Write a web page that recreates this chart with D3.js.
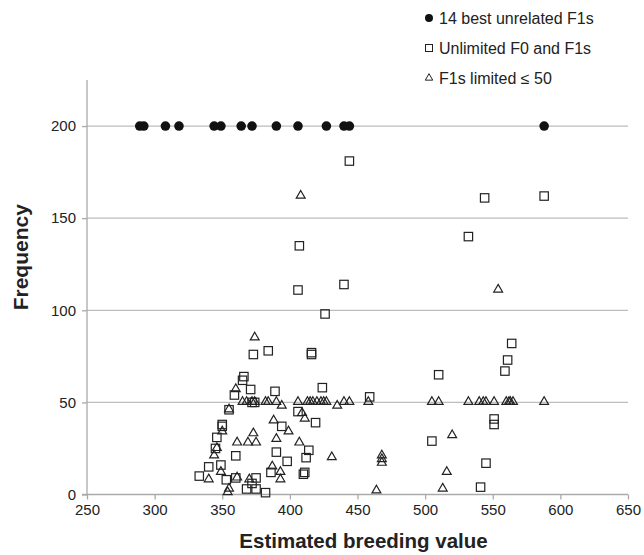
<!DOCTYPE html>
<html>
<head>
<meta charset="utf-8">
<script src="https://cdn.jsdelivr.net/npm/d3@7"></script>
<style>
  body { margin: 0; background: #fff; }
  text { font-family: "Liberation Sans", Arial, sans-serif; fill: #222; }
</style>
</head>
<body>
<svg width="644" height="555"></svg>
<script>
// best 14 unrelated F1s (all at frequency 200)
var bestX = [289, 292, 308, 318, 344, 349, 364, 372, 390, 406, 427, 440, 444, 588];
var bestY = [200, 200, 200, 200, 200, 200, 200, 200, 200, 200, 200, 200, 200, 200];

// unlimited F0 and F1s
var unlimX = [444, 588, 544, 532, 407, 406, 440, 426, 564, 561, 559, 510, 551, 551, 545, 541, 505, 459, 424,
              384, 416, 416, 373, 389, 406, 419, 394, 390, 414, 412, 398, 386, 410, 411, 382, 366, 365, 371,
              359, 372, 374, 355, 350, 350, 346, 345, 360, 349, 340, 333, 353, 360, 368, 375, 375, 372];
var unlimY = [181, 162, 161, 140, 135, 111, 114, 98, 82, 73, 67, 65, 41, 38, 17, 4, 29, 53, 58,
              78, 77, 76, 76, 56, 45, 39, 37, 23, 24, 20, 18, 12, 11, 12, 1, 64, 62, 57,
              54, 50, 50, 46, 38, 37, 31, 25, 21, 16, 15, 10, 8, 9, 3, 3, 9, 6];

// F1s limited <= 50
var limX = [382, 384, 390, 406, 413, 415, 417, 420, 423, 425, 427, 440, 444, 458, 365, 368, 372, 374,
            505, 510, 532, 540, 543, 545, 551, 560, 562, 563, 565, 588, 394, 435,
            408, 554, 374, 360, 355, 350, 361, 373, 369, 375, 346, 344, 349, 340, 361, 370, 355, 354,
            409, 388, 411, 399, 390, 407, 431, 387, 393, 393, 468, 468, 468, 464, 520, 516, 513];
var limY = [50, 50, 50, 50, 50, 50, 50, 50, 50, 50, 50, 50, 50, 50, 50, 50, 50, 50,
            50, 50, 50, 50, 50, 50, 50, 50, 50, 50, 50, 50, 48, 48,
            162, 111, 85, 57, 46, 34, 28, 33, 28, 28, 25, 21, 12, 8, 9, 8, 3, 1,
            44, 40, 41, 34, 30, 28, 20, 15, 12, 8, 21, 19, 17, 2, 32, 12, 3];

var xTicks = [250, 300, 350, 400, 450, 500, 550, 600, 650];
var yTicks = [0, 50, 100, 150, 200];

var legendLabels = ["14 best unrelated F1s", "Unlimited F0 and F1s", "F1s limited \u2264 50"];

var svg = d3.select("svg");
var margin = {top: 80, right: 16, bottom: 60.5, left: 87};
var width = +svg.attr("width") - margin.left - margin.right;
var height = +svg.attr("height") - margin.top - margin.bottom;

var x = d3.scaleLinear().domain([250, 650]).range([0, width]);
var y = d3.scaleLinear().domain([0, 225]).range([height, 0]);

var g = svg.append("g").attr("transform", "translate(" + margin.left + "," + margin.top + ")");

// horizontal gridlines
g.selectAll(".grid")
  .data(yTicks.filter(function(d) { return d > 0; }))
  .enter().append("line")
  .attr("x1", 0).attr("x2", width)
  .attr("y1", function(d) { return y(d); })
  .attr("y2", function(d) { return y(d); })
  .attr("stroke", "#bdbdbd").attr("stroke-width", 1.3);

var xAxis = g.append("g")
  .attr("transform", "translate(0," + height + ")")
  .call(d3.axisBottom(x).tickValues(xTicks).tickSize(5).tickPadding(5).tickSizeOuter(0));

var yAxis = g.append("g")
  .call(d3.axisLeft(y).tickValues(yTicks).tickSize(5).tickPadding(6).tickSizeOuter(0));

[xAxis, yAxis].forEach(function(a) {
  a.select(".domain").attr("stroke", "#aaa").attr("stroke-width", 1.3);
  a.selectAll(".tick line").attr("stroke", "#aaa").attr("stroke-width", 1.3);
  a.selectAll("text").attr("font-size", 15).attr("fill", "#222")
    .attr("font-family", "Liberation Sans, Arial, sans-serif");
});
yAxis.select(".domain").attr("d", "M0," + height + "V0");
// horizontal axis line extends to left tick
xAxis.select(".domain").attr("d", "M-5,0H" + width);

var tri = d3.symbol().type(d3.symbolTriangle).size(34);

// triangles
g.selectAll(".tri")
  .data(d3.zip(limX, limY))
  .enter().append("path")
  .attr("d", tri)
  .attr("transform", function(d) { return "translate(" + x(d[0]) + "," + (y(d[1]) - 0.5) + ")"; })
  .attr("fill", "none").attr("stroke", "#222").attr("stroke-width", 1.2);

// squares
g.selectAll(".sq")
  .data(d3.zip(unlimX, unlimY))
  .enter().append("rect")
  .attr("x", function(d) { return x(d[0]) - 4.2; })
  .attr("y", function(d) { return y(d[1]) - 4.2; })
  .attr("width", 8.4).attr("height", 8.4)
  .attr("fill", "none").attr("stroke", "#222").attr("stroke-width", 1.2);

// filled circles
g.selectAll(".dot")
  .data(d3.zip(bestX, bestY))
  .enter().append("circle")
  .attr("cx", function(d) { return x(d[0]); })
  .attr("cy", function(d) { return y(d[1]); })
  .attr("r", 4.8)
  .attr("fill", "#111");

// axis titles
svg.append("text")
  .attr("x", margin.left + width / 2 + 6).attr("y", 548)
  .attr("text-anchor", "middle")
  .attr("font-size", 20.5).attr("font-weight", "bold")
  .text("Estimated breeding value");

svg.append("text")
  .attr("transform", "translate(28," + (margin.top + height / 2 - 30) + ") rotate(-90)")
  .attr("text-anchor", "middle")
  .attr("font-size", 21).attr("font-weight", "bold")
  .text("Frequency");

// legend
var leg = svg.append("g").attr("transform", "translate(429,0)");
var rowY = [18, 48, 78];
leg.append("circle").attr("cx", 0).attr("cy", rowY[0]).attr("r", 4).attr("fill", "#111");
leg.append("rect").attr("x", -3.5).attr("y", rowY[1] - 3.5).attr("width", 7).attr("height", 7)
  .attr("fill", "none").attr("stroke", "#222").attr("stroke-width", 1);
leg.append("path").attr("d", d3.symbol().type(d3.symbolTriangle).size(24))
  .attr("transform", "translate(0," + rowY[2] + ")")
  .attr("fill", "none").attr("stroke", "#222").attr("stroke-width", 1);
leg.selectAll(".lt")
  .data(legendLabels)
  .enter().append("text")
  .attr("x", 10)
  .attr("y", function(d, i) { return rowY[i] + 5.7; })
  .attr("font-size", 16)
  .text(function(d) { return d; });
</script>
</body>
</html>
